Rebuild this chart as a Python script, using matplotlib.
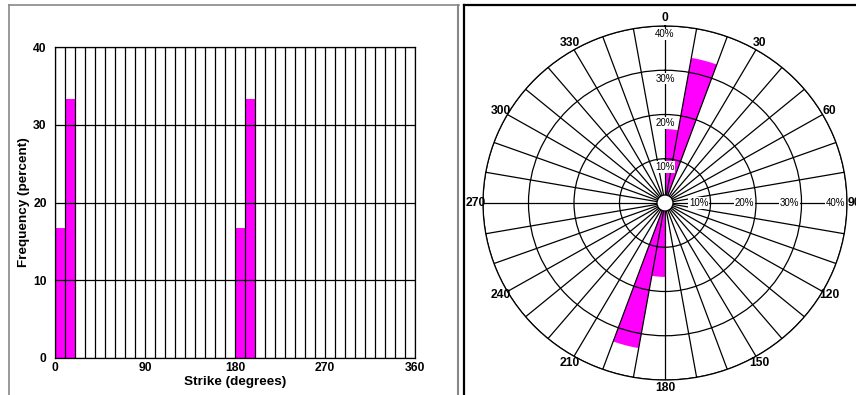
import numpy as np
import matplotlib
matplotlib.use("Agg")
import matplotlib.pyplot as plt
from matplotlib.lines import Line2D
from matplotlib.patches import Ellipse

# ---- data ----
bin_starts = [0, 10, 180, 190]          # strike bin start (degrees)
frequency = [16.7, 33.3, 16.7, 33.3]    # percent
bin_width = 10
x_ticks = [0, 90, 180, 270, 360]
y_ticks = [0, 10, 20, 30, 40]
theta_labels = [0, 30, 60, 90, 120, 150, 180, 210, 240, 270, 300, 330]
ring_values = [10, 20, 30, 40]

W, H = 856, 395
plt.rcParams['font.family'] = ['Liberation Sans', 'DejaVu Sans']
plt.rcParams['font.weight'] = 'bold'
fig = plt.figure(figsize=(W / 100, H / 100), dpi=100)
fig.patch.set_facecolor('white')

MAG = '#ff00ff'
FS = 8.7

# ---- left: histogram ----
def box(l, t, r, b):
    return [l / W, 1 - b / H, (r - l) / W, (b - t) / H]

ax = fig.add_axes(box(55, 47, 415, 358))
ax.bar(bin_starts, frequency, width=bin_width, align='edge', color=MAG,
       edgecolor='none', zorder=1)
ax.set_xlim(0, 360)
ax.set_ylim(0, 40)
ax.set_xticks(np.arange(0, 361, 10), minor=True)
ax.set_xticks(x_ticks)
ax.set_yticks(y_ticks)
ax.set_xticklabels([str(v) for v in x_ticks], fontsize=FS, fontweight='bold')
ax.set_yticklabels([str(v) for v in y_ticks], fontsize=FS, fontweight='bold')
ax.tick_params(which='both', length=0)
ax.tick_params(axis='x', pad=3)
ax.tick_params(axis='y', pad=6)
ax.grid(True, which='both', axis='x', color='black', lw=0.9)
ax.grid(True, which='major', axis='y', color='black', lw=0.9)
ax.set_axisbelow(False)
for s in ax.spines.values():
    s.set_linewidth(0.9)
ax.set_xlabel('Strike (degrees)', fontsize=9.7, fontweight='bold', labelpad=1)
ax.set_ylabel('Frequency (percent)', fontsize=9.7, fontweight='bold', labelpad=2)

# ---- right: rose diagram ----
cx, cy, rx, ry = 665, 203, 182, 177
pax = fig.add_axes(box(cx - rx, cy - ry, cx + rx, cy + ry), projection='polar')
pax.set_aspect('auto')
pax.set_theta_zero_location('N')
pax.set_theta_direction(-1)
pax.bar(np.deg2rad(bin_starts), frequency, width=np.deg2rad(bin_width),
        align='edge', color=MAG, edgecolor='none', zorder=1)
pax.set_ylim(0, 40)
grid_angles = np.arange(0, 360, 10)
pax.set_thetagrids(grid_angles,
                   labels=[str(a) if a in theta_labels else '' for a in grid_angles],
                   fontsize=FS, fontweight='bold')
pax.set_rgrids(ring_values, labels=['' for _ in ring_values])
pax.grid(True, color='black', lw=0.9)
pax.set_axisbelow(False)
pax.spines['polar'].set_linewidth(0.9)
pax.tick_params(axis='x', pad=-5)
for v in ring_values:
    pax.text(0, v - 1.9, f'{v}%', fontsize=7, ha='center', va='center',
             fontweight='normal', zorder=5,
             bbox=dict(facecolor='white', edgecolor='none', pad=0.5))
    pax.text(np.pi / 2, v - 2.6, f'{v}%', fontsize=7, ha='center', va='center',
             fontweight='normal', zorder=5,
             bbox=dict(facecolor='white', edgecolor='none', pad=0.5))
pax.add_patch(Ellipse((0.5, 0.5), 16 / (2 * rx), 16 / (2 * ry),
                      transform=pax.transAxes, facecolor='white',
                      edgecolor='black', lw=0.9, zorder=6))

# ---- panel frames ----
def fline(x0, y0, x1, y1, color, lw):
    fig.add_artist(Line2D([x0 / W, x1 / W], [1 - y0 / H, 1 - y1 / H],
                          color=color, lw=lw, transform=fig.transFigure))

fline(9, 5, 459, 5, '#888888', 1.2)
fline(9, 5, 9, 395, '#888888', 1.2)
fline(458, 5, 458, 395, '#888888', 1.5)
fline(464, 5, 856, 5, 'black', 1.6)
fline(464, 5, 464, 395, 'black', 1.6)

fig.savefig('out.png', dpi=100, facecolor='white')
